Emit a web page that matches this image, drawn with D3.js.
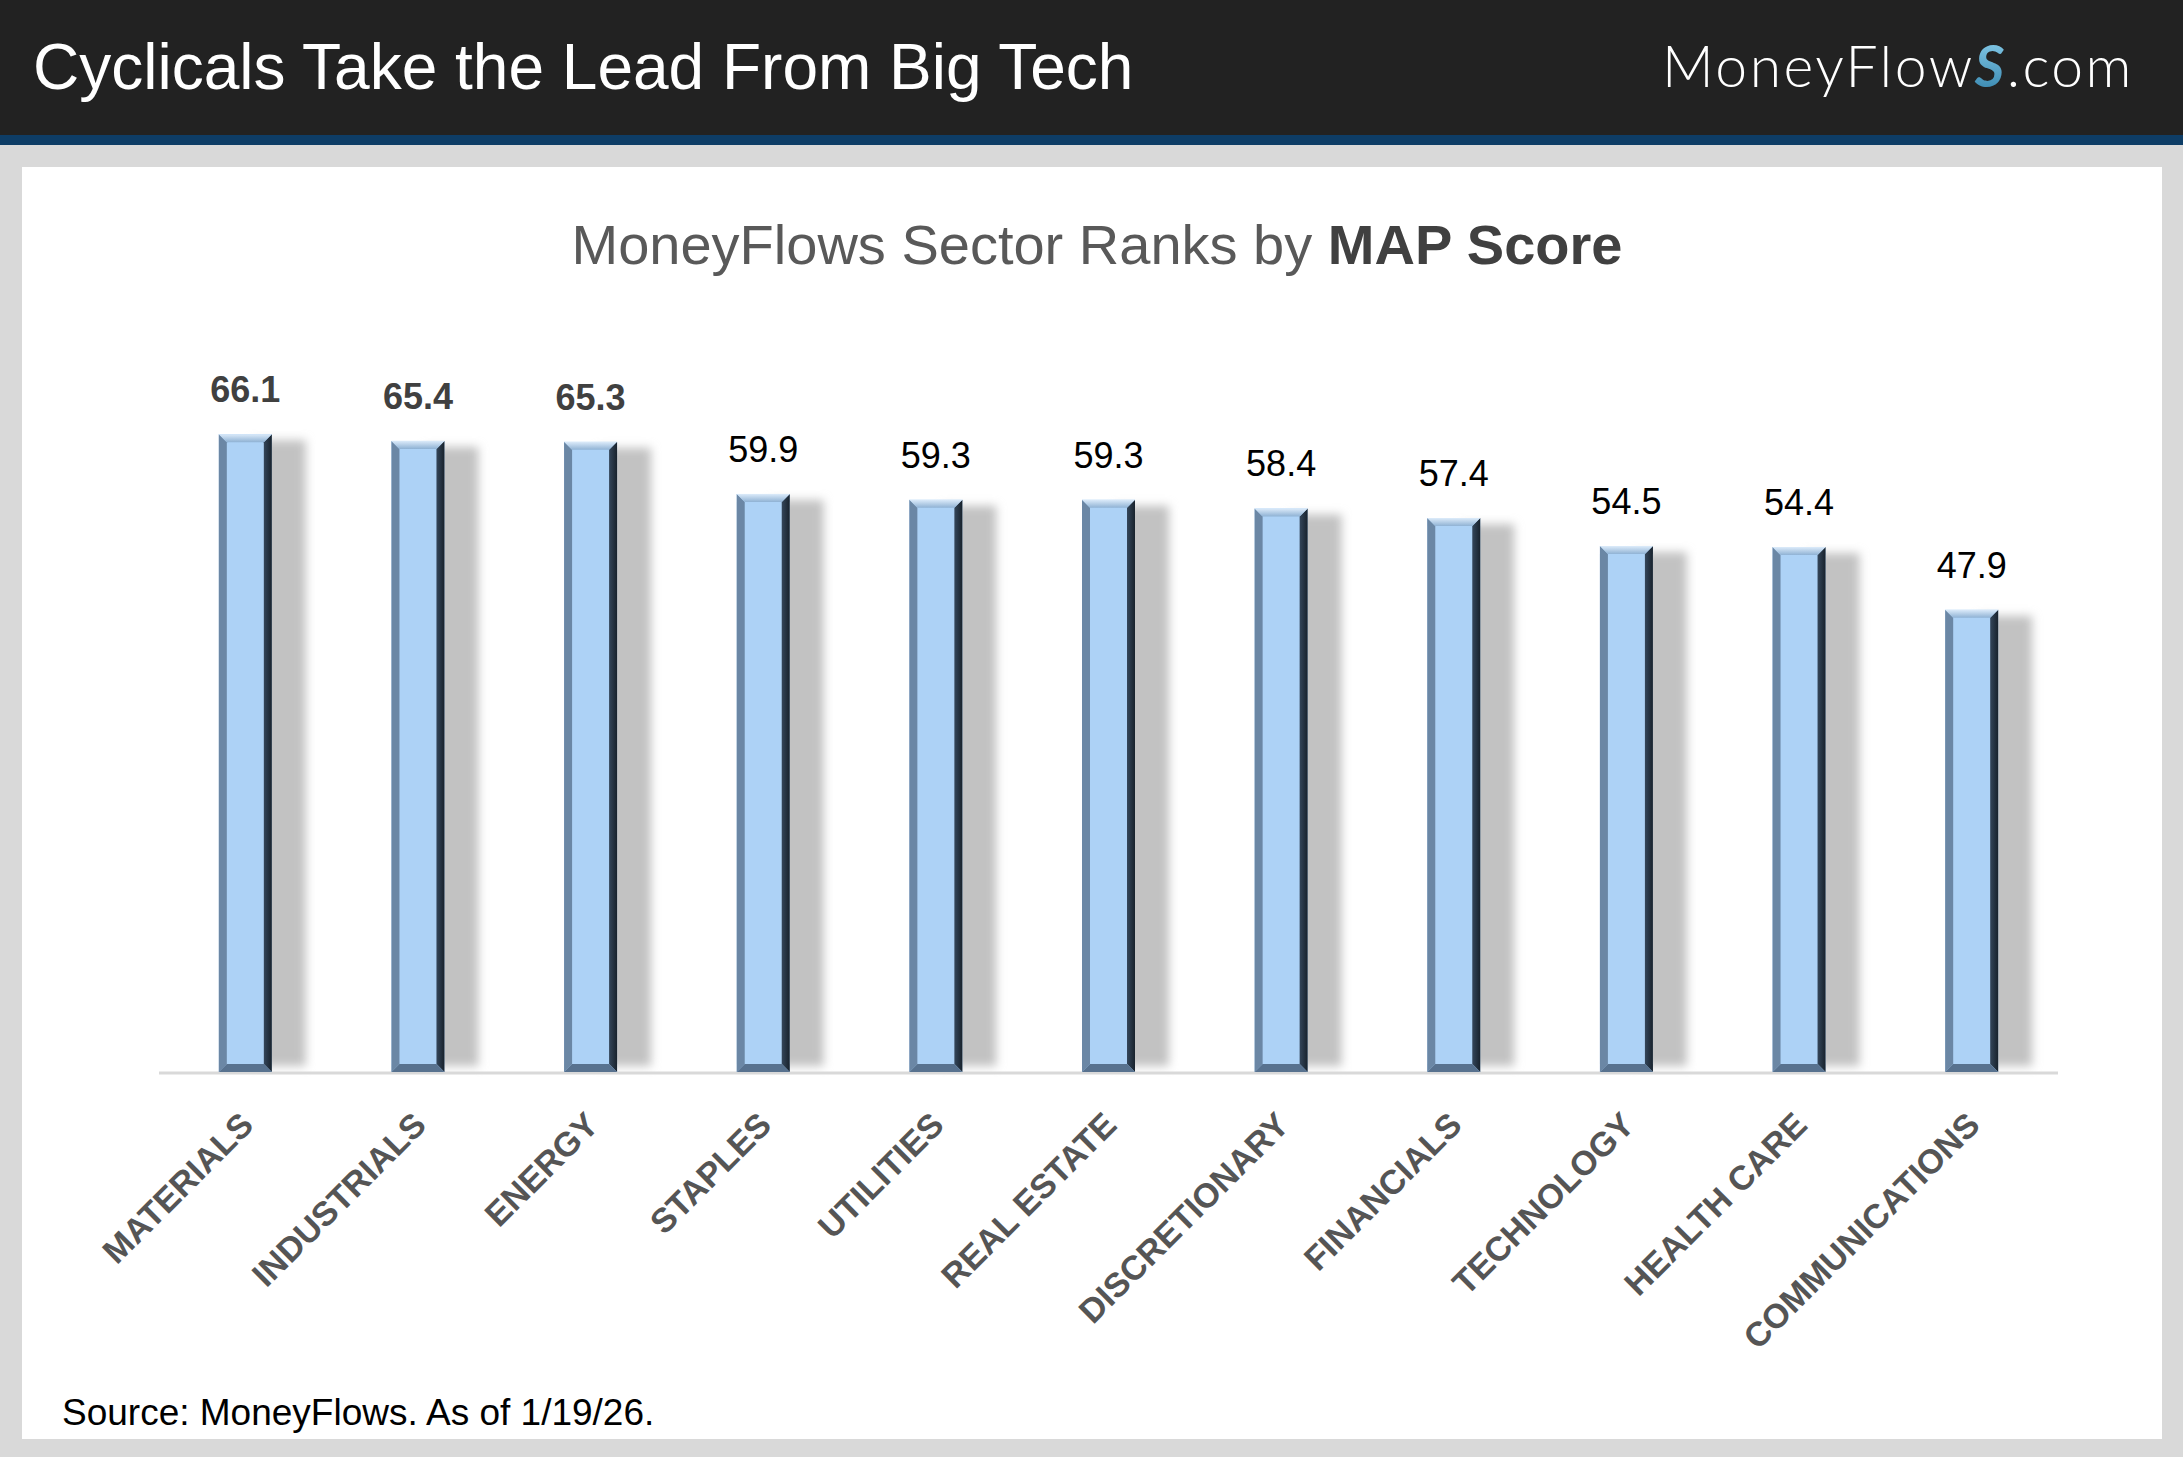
<!DOCTYPE html>
<html>
<head>
<meta charset="utf-8">
<script src="https://cdn.jsdelivr.net/npm/d3@7"></script>
<style>
  body { margin: 0; padding: 0; background: #d9d9d9; }
  svg { display: block; }
</style>
</head>
<body>
<div id="chart"></div>
<script>
const WIDTH = 2183, HEIGHT = 1457

// data
const sectors = ["MATERIALS", "INDUSTRIALS", "ENERGY", "STAPLES", "UTILITIES", "REAL ESTATE",
    "DISCRETIONARY", "FINANCIALS", "TECHNOLOGY", "HEALTH CARE", "COMMUNICATIONS"]
const mapScores = [66.1, 65.4, 65.3, 59.9, 59.3, 59.3, 58.4, 57.4, 54.5, 54.4, 47.9]
const leaders = ["MATERIALS", "INDUSTRIALS", "ENERGY"]   // labels printed bold

const headline = "Cyclicals Take the Lead From Big Tech"
const chartTitle = ["MoneyFlows Sector Ranks by ", "MAP Score"]
const sourceNote = "Source: MoneyFlows. As of 1/19/26."

let svg = d3.select("#chart").append("svg")
    .attr("width", WIDTH)
    .attr("height", HEIGHT)

let defs = svg.append("defs")
defs.append("filter").attr("id", "shadow-blur")
    .attr("x", "-50%").attr("y", "-10%").attr("width", "200%").attr("height", "120%")
    .append("feGaussianBlur").attr("stdDeviation", 5)

let topGrad = defs.append("linearGradient").attr("id", "bevel-top")
    .attr("x1", 0).attr("y1", 0).attr("x2", 0).attr("y2", 1)
topGrad.append("stop").attr("offset", "0%").attr("stop-color", "#dcebfa")
topGrad.append("stop").attr("offset", "100%").attr("stop-color", "#8fb2d4")

let rightGrad = defs.append("linearGradient").attr("id", "bevel-right")
    .attr("x1", 0).attr("y1", 0).attr("x2", 1).attr("y2", 0)
rightGrad.append("stop").attr("offset", "0%").attr("stop-color", "#34465a")
rightGrad.append("stop").attr("offset", "100%").attr("stop-color", "#18222c")

let sGrad = defs.append("linearGradient").attr("id", "logo-s")
    .attr("x1", 0).attr("y1", 0).attr("x2", 0).attr("y2", 1)
sGrad.append("stop").attr("offset", "0%").attr("stop-color", "#8fd3f0")
sGrad.append("stop").attr("offset", "100%").attr("stop-color", "#2f7fa8")

// background, header band and white panel
svg.append("rect").attr("width", WIDTH).attr("height", HEIGHT).attr("fill", "#d9d9d9")
svg.append("rect").attr("width", WIDTH).attr("height", 135).attr("fill", "#222222")
svg.append("rect").attr("y", 135).attr("width", WIDTH).attr("height", 10).attr("fill", "#0e3d66")
svg.append("rect").attr("x", 22).attr("y", 167).attr("width", 2140).attr("height", 1272).attr("fill", "#ffffff")

svg.append("text")
    .attr("x", 33).attr("y", 89)
    .style("font-family", "'Liberation Sans', Arial, sans-serif")
    .style("font-size", "64px")
    .attr("fill", "#ffffff")
    .text(headline)

let logo = svg.append("text")
    .attr("x", 2134).attr("y", 87)
    .attr("text-anchor", "end")
    .style("font-family", "Lato, 'Open Sans', sans-serif")
    .style("font-weight", 300)
    .style("font-size", "57px")
    .style("letter-spacing", "2.5px")
    .attr("fill", "#ffffff")
logo.append("tspan").text("MoneyFlow")
logo.append("tspan").text("S").attr("fill", "url(#logo-s)")
    .style("font-weight", 700).style("font-style", "italic")
logo.append("tspan").text(".com")

// chart title
let title = svg.append("text")
    .attr("x", 1097).attr("y", 264)
    .attr("text-anchor", "middle")
    .style("font-family", "'Liberation Sans', Arial, sans-serif")
    .style("font-size", "56px")
title.append("tspan").text(chartTitle[0]).attr("fill", "#595959")
title.append("tspan").text(chartTitle[1]).attr("fill", "#404040").style("font-weight", "bold")

// scales
let x = d3.scaleBand().domain(sectors).range([159, 2058])
let y = d3.scaleLinear().domain([0, 70]).range([1072, 396.5])
const barW = 53, bev = 8

let g = svg.append("g")

// shadows first so they sit behind the bars
g.selectAll(".shadow")
    .data(sectors).enter()
    .append("rect")
    .attr("class", "shadow")
    .attr("x", d => x(d) + x.bandwidth() / 2 - barW / 2 + 34)
    .attr("y", (d, i) => y(mapScores[i]) + 6)
    .attr("width", barW)
    .attr("height", (d, i) => y(0) - y(mapScores[i]) - 12)
    .attr("fill", "#c2c2c2")
    .attr("filter", "url(#shadow-blur)")

// axis baseline
g.append("line")
    .attr("x1", x.range()[0]).attr("x2", x.range()[1])
    .attr("y1", y(0) + 1).attr("y2", y(0) + 1)
    .attr("stroke", "#d9d9d9").attr("stroke-width", 3)

let bars = g.selectAll(".bar")
    .data(sectors).enter()
    .append("g")
    .attr("class", "bar")

bars.each(function (d, i) {
    let bx = x(d) + x.bandwidth() / 2 - barW / 2
    let by = y(mapScores[i])
    let bw = barW, bh = y(0) - y(mapScores[i])
    let sel = d3.select(this)
    let pts = a => a.map(p => p.join(",")).join(" ")
    sel.append("rect").attr("x", bx).attr("y", by).attr("width", bw).attr("height", bh).attr("fill", "#add2f6")
    // left
    sel.append("polygon").attr("points", pts([[bx, by], [bx + bev, by + bev], [bx + bev, by + bh - bev], [bx, by + bh]]))
        .attr("fill", "#6b87a5")
    // right
    sel.append("polygon").attr("points", pts([[bx + bw, by], [bx + bw - bev, by + bev], [bx + bw - bev, by + bh - bev], [bx + bw, by + bh]]))
        .attr("fill", "url(#bevel-right)")
    // top
    sel.append("polygon").attr("points", pts([[bx, by], [bx + bw, by], [bx + bw - bev, by + bev], [bx + bev, by + bev]]))
        .attr("fill", "url(#bevel-top)")
    // bottom
    sel.append("polygon").attr("points", pts([[bx, by + bh], [bx + bw, by + bh], [bx + bw - bev, by + bh - bev], [bx + bev, by + bh - bev]]))
        .attr("fill", "#58728f")
})

// value labels
g.selectAll(".value")
    .data(sectors).enter()
    .append("text")
    .attr("class", "value")
    .attr("x", d => x(d) + x.bandwidth() / 2)
    .attr("y", (d, i) => y(mapScores[i]) - 32)
    .attr("text-anchor", "middle")
    .style("font-family", "'Liberation Sans', Arial, sans-serif")
    .style("font-size", "36px")
    .style("font-weight", d => leaders.includes(d) ? "bold" : "normal")
    .attr("fill", d => leaders.includes(d) ? "#404040" : "#000000")
    .text((d, i) => mapScores[i].toFixed(1))

// category labels
g.selectAll(".cat")
    .data(sectors).enter()
    .append("text")
    .attr("class", "cat")
    .attr("transform", d => "translate(" + (x(d) + x.bandwidth() / 2 + 10) + "," + 1127 + ") rotate(-45)")
    .attr("text-anchor", "end")
    .style("font-family", "'Liberation Sans', Arial, sans-serif")
    .style("font-size", "34px")
    .style("font-weight", "bold")
    .attr("fill", "#555555")
    .text(d => d)

svg.append("text")
    .attr("x", 62).attr("y", 1425)
    .style("font-family", "'Liberation Sans', Arial, sans-serif")
    .style("font-size", "37px")
    .attr("fill", "#000000")
    .text(sourceNote)
</script>
</body>
</html>
